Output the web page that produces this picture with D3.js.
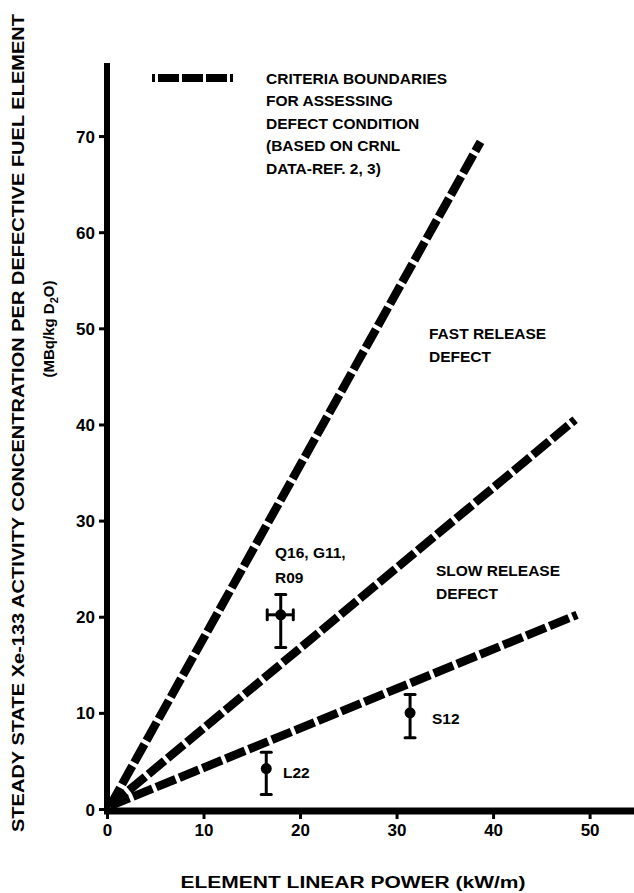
<!DOCTYPE html>
<html><head><meta charset="utf-8">
<script src="https://cdn.jsdelivr.net/npm/d3@7"></script>
<style>
body{margin:0;background:#fff}
text{font-family:"Liberation Sans",Arial,Helvetica,sans-serif;font-weight:bold;fill:#000}
</style></head>
<body><svg id="c" width="634" height="893"></svg>
<script>
// ---- data ----
const xTicks = [0, 10, 20, 30, 40, 50];
const yTicks = [0, 10, 20, 30, 40, 50, 60, 70];
const boundaryNames = ["fast", "middle", "slow"];
const boundaryEndX = [38.7, 48.5, 48.7];
const boundaryEndY = [69.4, 40.5, 20.2];
const pointNames = ["Q16, G11, R09", "L22", "S12"];
const pointX = [18.0, 16.5, 31.4];
const pointY = [20.2, 4.2, 10.0];
const pointYLow = [16.8, 1.5, 7.4];
const pointYHigh = [22.3, 5.9, 11.9];
const pointXLow = [16.6, null, null];
const pointXHigh = [19.3, null, null];
const legendLines = ["CRITERIA BOUNDARIES", "FOR ASSESSING", "DEFECT CONDITION", "(BASED ON CRNL", "DATA-REF. 2, 3)"];

// ---- chart ----
const svg = d3.select("#c");
const x = d3.scaleLinear().domain([0, 54.6]).range([107, 634]);
const y = d3.scaleLinear().domain([0, 77.6]).range([809, 63]);

const FONT = "\"Liberation Sans\",Arial,Helvetica,sans-serif";

// axes ticks via d3 axis
const yAxis = svg.append("g").attr("transform", `translate(${x(0)},0)`)
  .call(d3.axisLeft(y).tickValues(yTicks).tickSize(8).tickPadding(4).tickFormat(d3.format("d")))
  .attr("font-size", 17).attr("font-family", FONT);
yAxis.select(".domain").remove();
yAxis.selectAll("line").attr("stroke", "#000").attr("stroke-width", 3);
yAxis.selectAll("text").style("font-size", "17px").attr("dy", "0.36em").attr("fill", "#000");

const xAxis = svg.append("g").attr("transform", `translate(0,${y(0) + 3})`)
  .call(d3.axisBottom(x).tickValues(xTicks).tickSize(7).tickPadding(5).tickFormat(d3.format("d")))
  .attr("font-size", 17).attr("font-family", FONT);
xAxis.select(".domain").remove();
xAxis.selectAll("line").attr("stroke", "#000").attr("stroke-width", 3);
xAxis.selectAll("text").style("font-size", "17px").attr("fill", "#000");

// thick axis lines
svg.append("line").attr("x1", x(0)).attr("x2", x(0)).attr("y1", y(77.6)).attr("y2", y(0) + 5)
  .attr("stroke", "#000").attr("stroke-width", 6);
svg.append("line").attr("x1", x(0) - 3).attr("x2", x(54.6)).attr("y1", y(0) + 2).attr("y2", y(0) + 2)
  .attr("stroke", "#000").attr("stroke-width", 7);

// boundary lines
const dash = "21,4";
svg.append("g").selectAll("line").data(boundaryNames).join("line")
  .attr("x1", x(0.3)).attr("y1", y(0.3))
  .attr("x2", (d, i) => x(boundaryEndX[i])).attr("y2", (d, i) => y(boundaryEndY[i]))
  .attr("stroke", "#000").attr("stroke-width", 8.5).attr("stroke-dasharray", dash);

// legend
svg.append("line").attr("x1", 152).attr("x2", 236).attr("y1", 78).attr("y2", 78)
  .attr("stroke", "#000").attr("stroke-width", 8).attr("stroke-dasharray", "3,3,21,3,21,3,21,3");
svg.append("g").selectAll("text").data(legendLines).join("text")
  .attr("x", 266).attr("y", (d, i) => 84 + i * 22.4)
  .style("font-size", "15.5px").text(d => d);

// region labels
function label(lines, px, py, dy) {
  svg.append("g").selectAll("text").data(lines).join("text")
    .attr("x", px).attr("y", (d, i) => py + i * dy).style("font-size", "15.5px").text(d => d);
}
label(["FAST RELEASE", "DEFECT"], 429, 339, 23);
label(["SLOW RELEASE", "DEFECT"], 436, 576, 23);
label(["Q16, G11,", "R09"], 275, 558, 25);
label(["L22"], 283, 778, 0);
label(["S12"], 432, 724, 0);

// data points with error bars
const pts = svg.append("g");
pointNames.forEach((n, i) => {
  const cx = x(pointX[i]), cy = y(pointY[i]);
  pts.append("line").attr("x1", cx).attr("x2", cx).attr("y1", y(pointYHigh[i])).attr("y2", y(pointYLow[i]))
    .attr("stroke", "#000").attr("stroke-width", 3);
  [pointYHigh[i], pointYLow[i]].forEach(v => {
    pts.append("line").attr("x1", cx - 5).attr("x2", cx + 5).attr("y1", y(v)).attr("y2", y(v))
      .attr("stroke", "#000").attr("stroke-width", 3).attr("stroke-linecap", "round");
  });
  if (pointXLow[i] != null) {
    pts.append("line").attr("x1", x(pointXLow[i])).attr("x2", x(pointXHigh[i])).attr("y1", cy).attr("y2", cy)
      .attr("stroke", "#000").attr("stroke-width", 3);
    [pointXLow[i], pointXHigh[i]].forEach(v => {
      pts.append("line").attr("x1", x(v)).attr("x2", x(v)).attr("y1", cy - 5).attr("y2", cy + 5)
        .attr("stroke", "#000").attr("stroke-width", 3).attr("stroke-linecap", "round");
    });
  }
  pts.append("circle").attr("cx", cx).attr("cy", cy).attr("r", 5.5).attr("fill", "#000");
});

// axis titles
svg.append("text").attr("x", 353).attr("y", 888).attr("text-anchor", "middle")
  .style("font-size", "16px").attr("textLength", 345).attr("lengthAdjust", "spacingAndGlyphs")
  .text("ELEMENT LINEAR POWER (kW/m)");
svg.append("text").attr("transform", "translate(24,423) rotate(-90)").attr("text-anchor", "middle")
  .style("font-size", "17px").attr("textLength", 818).attr("lengthAdjust", "spacingAndGlyphs")
  .text("STEADY STATE Xe-133 ACTIVITY CONCENTRATION PER DEFECTIVE FUEL ELEMENT");
const sub = svg.append("text").attr("transform", "translate(54,329) rotate(-90)").attr("text-anchor", "middle")
  .style("font-size", "15px");
sub.append("tspan").text("(MBq/kg D");
sub.append("tspan").attr("dy", 4).style("font-size", "11px").text("2");
sub.append("tspan").attr("dy", -4).text("O)");
</script></body></html>
